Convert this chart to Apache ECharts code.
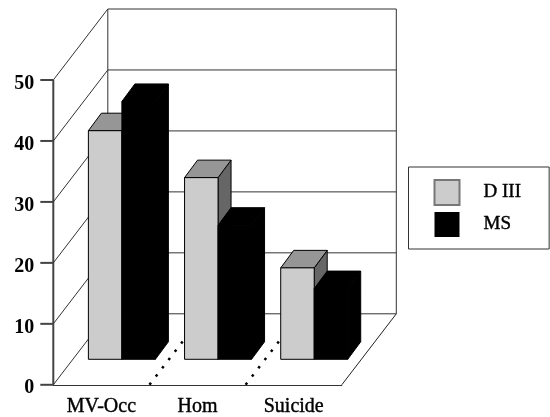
<!DOCTYPE html>
<html><head><meta charset="utf-8">
<style>html,body{margin:0;padding:0;background:#fff}#c{width:550px;height:417px}</style>
<script src="https://cdn.jsdelivr.net/npm/echarts@6/dist/echarts.min.js"></script>
</head><body><div id="c"></div>
<script>
const categories = ['MV-Occ', 'Hom', 'Suicide'];
const dIII = [37.5, 29.8, 15];
const ms = [42.3, 22, 11.6];
const yTicks = [0, 10, 20, 30, 40, 50];
const boundaries = [1, 2];

const FONT = '"Liberation Serif","Times New Roman",serif';
const WALL_DX = 54.5, WALL_DY = -71, TICK_LEN = 13;
const BAR_OFF_DX = 20.5, BAR_OFF_DY = -25.5;
const BAR_DX = 13, BAR_DY = -17.5, BAR_W = 33.5;
const LINE = '#333333';

function wallItem(params, api) {
  const cs = params.coordSys;
  const tick = api.value(1);
  const y = api.coord([0, tick])[1];
  const x0 = cs.x, x1 = cs.x + cs.width;
  const ls = { stroke: LINE, lineWidth: 1, fill: null };
  const children = [{
    type: 'polyline',
    shape: { points: [[x0, y], [x0 + WALL_DX, y + WALL_DY], [x1 + WALL_DX, y + WALL_DY]] },
    style: ls
  }, {
    type: 'line',
    shape: { x1: x0 - TICK_LEN, y1: y, x2: x0, y2: y },
    style: { stroke: '#444444', lineWidth: 2 }
  }];
  if (tick === 0) {
    const frontTop = api.coord([0, yTicks[yTicks.length - 1]])[1];
    const top = frontTop + WALL_DY;
    children.push(
      { type: 'line', shape: { x1: x0, y1: y, x2: x0, y2: frontTop }, style: { stroke: '#444444', lineWidth: 2 } },
      { type: 'line', shape: { x1: x0 + WALL_DX, y1: y + WALL_DY, x2: x0 + WALL_DX, y2: top }, style: ls },
      { type: 'line', shape: { x1: x1 + WALL_DX, y1: y + WALL_DY, x2: x1 + WALL_DX, y2: top }, style: ls },
      { type: 'line', shape: { x1: x1, y1: y, x2: x1 + WALL_DX, y2: y + WALL_DY }, style: { stroke: '#222', lineWidth: 1 } }
    );
  }
  return { type: 'group', silent: true, children };
}

function dividerItem(params, api) {
  const cs = params.coordSys;
  const band = cs.width / categories.length;
  const x = cs.x + band * api.value(0);
  const y = cs.y + cs.height;
  return {
    type: 'line', silent: true,
    shape: { x1: x, y1: y, x2: x + WALL_DX, y2: y + WALL_DY },
    style: { stroke: '#000', lineWidth: 2.5, lineDash: [2.5, 7.9] }
  };
}

function barItem(front, top, side, stroke, leftOfCentre) {
  return function (params, api) {
    const i = api.value(0);
    const c = api.coord([i, api.value(1)]);
    const b = api.coord([i, 0]);
    const xl = c[0] + BAR_OFF_DX - (leftOfCentre ? BAR_W : 0);
    const xr = xl + BAR_W;
    const yt = c[1] + BAR_OFF_DY;
    const yb = b[1] + BAR_OFF_DY;
    const st = { stroke, lineWidth: 1 };
    return {
      type: 'group', silent: true,
      children: [
        { type: 'polygon', shape: { points: [[xr, yt], [xr + BAR_DX, yt + BAR_DY], [xr + BAR_DX, yb + BAR_DY], [xr, yb]] }, style: { fill: side, ...st } },
        { type: 'polygon', shape: { points: [[xl, yt], [xl + BAR_DX, yt + BAR_DY], [xr + BAR_DX, yt + BAR_DY], [xr, yt]] }, style: { fill: top, ...st } },
        { type: 'rect', shape: { x: xl, y: yt, width: BAR_W, height: yb - yt }, style: { fill: front, ...st } }
      ]
    };
  };
}

const chart = echarts.init(document.getElementById('c'), null, { renderer: 'canvas' });
chart.setOption({
  animation: false,
  backgroundColor: '#fff',
  grid: { left: 53.3, top: 80, width: 288.5, height: 305 },
  xAxis: {
    type: 'category', data: categories,
    axisLine: { lineStyle: { color: LINE, width: 1 } },
    axisTick: { show: false },
    axisLabel: { color: '#000', fontFamily: FONT, fontSize: 20, margin: 12, interval: 0,
      textBorderColor: '#000', textBorderWidth: 0.4 }
  },
  yAxis: {
    type: 'value', min: 0, max: 50, interval: 10,
    axisLine: { show: false },
    axisTick: { show: false },
    splitLine: { show: false },
    axisLabel: { color: '#000', fontFamily: FONT, fontSize: 20, fontWeight: 'bold', margin: 19,
      verticalAlign: 'top', lineHeight: 7 }
  },
  legend: {
    left: 408.5, top: 167, orient: 'vertical', icon: 'rect',
    data: ['D III', 'MS'],
    itemWidth: 25, itemHeight: 25, itemGap: 6,
    padding: [12, 28, 12, 25],
    backgroundColor: '#fff', borderColor: LINE, borderWidth: 1,
    selectedMode: false,
    textStyle: { color: '#000', fontFamily: FONT, fontSize: 19, padding: [0, 0, 0, 19],
      textBorderColor: '#000', textBorderWidth: 0.4 }
  },
  series: [
    { type: 'custom', name: 'walls', silent: true, clip: false, z: 1, renderItem: wallItem,
      data: yTicks.map(t => [0, t]), encode: { x: 0, y: 1 } },
    { type: 'custom', name: 'dividers', silent: true, clip: false, z: 2, renderItem: dividerItem,
      data: boundaries.map(b => [b, 0]), encode: { x: 0, y: 1 } },
    { type: 'custom', name: 'D III', clip: false, z: 3, itemStyle: { color: '#cccccc', borderColor: '#777', borderWidth: 1 },
      renderItem: barItem('#cccccc', '#969696', '#666666', '#000', true),
      data: dIII.map((v, i) => [i, v]), encode: { x: 0, y: 1 } },
    { type: 'custom', name: 'MS', clip: false, z: 4, itemStyle: { color: '#000' },
      renderItem: barItem('#000', '#000', '#000', '#000', false),
      data: ms.map((v, i) => [i, v]), encode: { x: 0, y: 1 } }
  ]
});
</script></body></html>
